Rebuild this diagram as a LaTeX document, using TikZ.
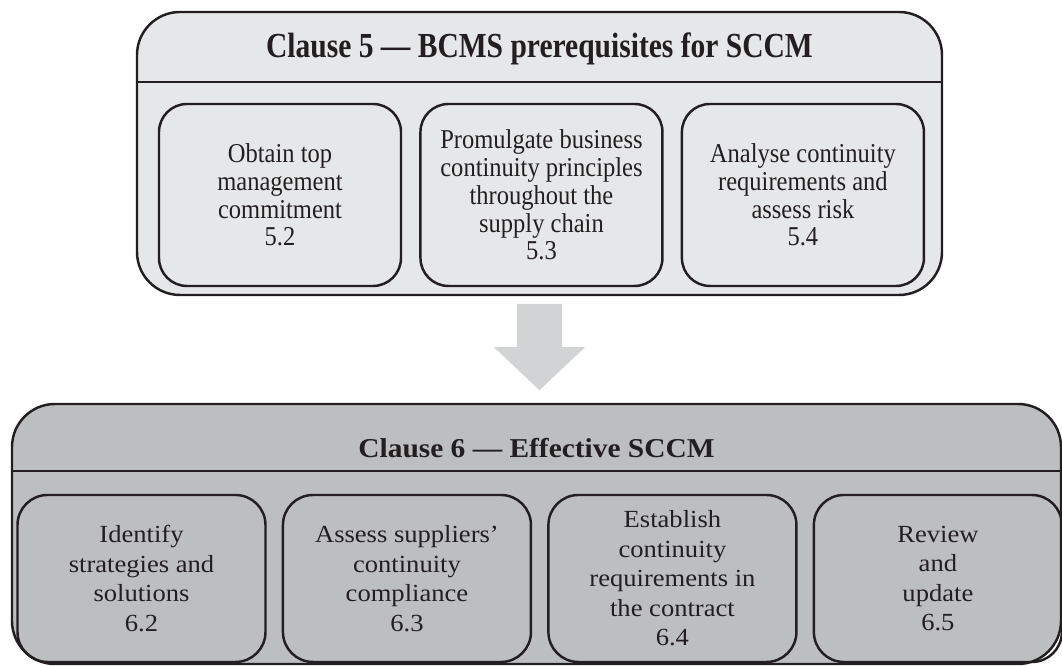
\documentclass[tikz,border=0pt]{standalone}
\usepackage{fontspec}
\setmainfont{Liberation Serif}
\newfontfamily\narrowfont[FakeStretch=0.84]{Liberation Serif}
\newfontfamily\slimfont[FakeStretch=0.9]{Liberation Serif}
\newfontfamily\widefont[FakeStretch=1.08]{Liberation Serif}
\usetikzlibrary{positioning,calc}

\definecolor{lightpanel}{HTML}{E6E7E8}
\definecolor{darkpanel}{HTML}{BCBEC0}
\definecolor{arrowgrey}{HTML}{D1D3D4}
\definecolor{ink}{HTML}{231F20}

\begin{document}
\begin{tikzpicture}[
    node distance=0.34cm,
    panel/.style={rectangle, rounded corners=0.86cm, draw=ink, line width=1.4pt},
    rule/.style={draw=ink, line width=1.4pt},
    topbox/.style={rectangle, rounded corners=0.56cm, draw=ink, line width=1.4pt, minimum width=4.84cm, minimum height=3.64cm, align=center, text=ink, font=\slimfont\fontsize{15.5}{15.8}\selectfont},
    lowbox/.style={rectangle, rounded corners=0.6cm, draw=ink, line width=1.4pt, minimum width=4.96cm, minimum height=3.34cm, align=center, text=ink, font=\widefont\fontsize{14}{16.8}\selectfont},
    heading/.style={text=ink, font=\widefont\bfseries\fontsize{15.5}{18}\selectfont}
]
\useasboundingbox (0,0) rectangle (21.24,13.32);

% Clause 5 panel
\node[panel, fill=lightpanel, minimum width=16.1cm, minimum height=5.66cm] (c5) at (10.79,10.25) {};
\coordinate (c5rule) at (0,11.68);
\draw[rule] (c5.west |- c5rule) -- (c5.east |- c5rule);
\node[heading, font=\narrowfont\bfseries\fontsize{20}{22}\selectfont] (t5) at (10.79,12.34) {Clause 5 — BCMS prerequisites for SCCM};

\node[topbox] (s52) at (5.60,9.42) {Obtain top\\management\\commitment\\5.2};
\node[topbox, right=of s52] (s53) {Promulgate business\\continuity principles\\throughout the\\supply chain\\5.3};
\node[topbox, right=of s53] (s54) {Analyse continuity\\requirements and\\assess risk\\5.4};

% Block arrow between the panels
\coordinate (atop) at ($(c5.south)+(0,-0.16)$);
\fill[arrowgrey] ($(atop)+(-0.45,0)$) -- ($(atop)+(0.45,0)$) -- ($(atop)+(0.45,-0.86)$)
    -- ($(atop)+(0.91,-0.86)$) -- ($(atop)+(0,-1.72)$) -- ($(atop)+(-0.91,-0.86)$)
    -- ($(atop)+(-0.45,-0.86)$) -- cycle;

% Clause 6 panel
\node[panel, fill=darkpanel, minimum width=20.98cm, minimum height=5.2cm] (c6) at (10.73,2.64) {};
\coordinate (c6rule) at (0,3.90);
\draw[rule] (c6.west |- c6rule) -- (c6.east |- c6rule);
\node[heading] (t6) at (10.73,4.36) {Clause 6 — Effective SCCM};

\node[lowbox] (s62) at (2.83,1.75) {Identify\\strategies and\\solutions\\6.2};
\node[lowbox, right=0.3cm of s62] (s63) {Assess suppliers’\\continuity\\compliance\\6.3};
\node[lowbox, right=0.3cm of s63] (s64) {Establish\\continuity\\requirements in\\the contract\\6.4};
\node[lowbox, right=0.3cm of s64] (s65) {Review\\and\\update\\6.5};

\end{tikzpicture}
\end{document}
